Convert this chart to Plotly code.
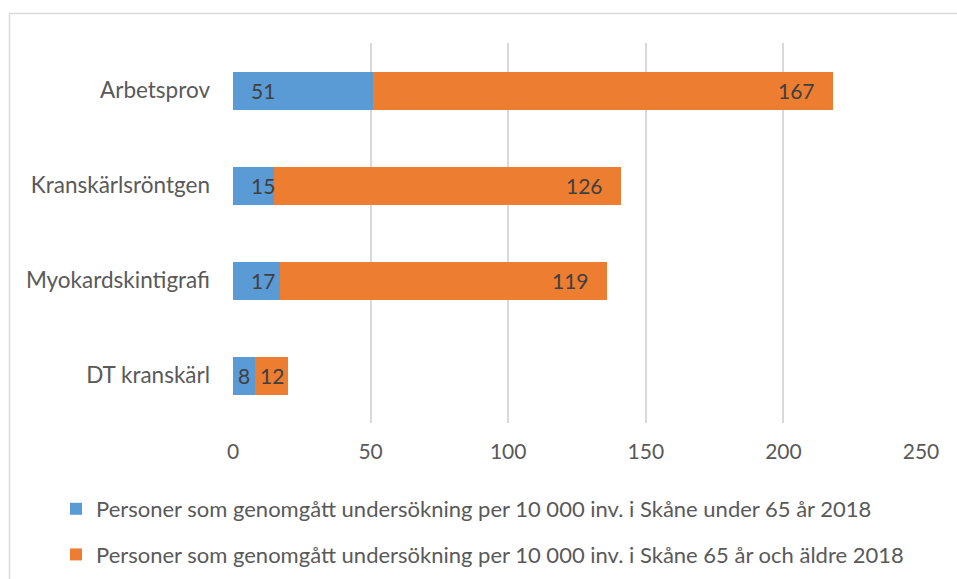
import plotly.graph_objects as go

# Examinations per 10 000 inhabitants in Skåne, 2018
categories = ["Arbetsprov", "Kranskärlsröntgen", "Myokardskintigrafi", "DT kranskärl"]
under_65 = [51, 15, 17, 8]
over_65 = [167, 126, 119, 12]
series_names = [
    "Personer som genomgått undersökning per 10 000 inv. i Skåne under 65 år 2018",
    "Personer som genomgått undersökning per 10 000 inv. i Skåne 65 år och äldre 2018",
]
x_ticks = [0, 50, 100, 150, 200, 250]

BLUE = "#5B9BD5"
ORANGE = "#ED7D31"
FONT = "Lato"
LABEL_SIZE = 21

# plot-area geometry used to place value labels like the spreadsheet does
PLOT_W = 688
PLOT_H = 380
X_MAX = 250
PX = PLOT_W / X_MAX          # pixels per unit
PAD = 16 / PX                # inset of labels, in data units
DIGIT = 11.6 / PX            # approx. width of one digit, in data units

fig = go.Figure()
fig.add_trace(go.Bar(
    y=categories, x=under_65, orientation="h", name=series_names[0],
    marker=dict(color=BLUE, line=dict(width=0)), legendgroup="a",
    hoverinfo="x+y",
))
fig.add_trace(go.Bar(
    y=categories, x=over_65, orientation="h", name=series_names[1],
    marker=dict(color=ORANGE, line=dict(width=0)), legendgroup="b",
    hoverinfo="x+y",
))

annotations = []
for cat, a, b in zip(categories, under_65, over_65):
    # blue segment: label at inside base unless the segment is too narrow
    w = len(str(a)) * DIGIT
    if a >= PAD + w:
        annotations.append(dict(x=PAD, y=cat, text=str(a), xanchor="left", showarrow=False))
    else:
        annotations.append(dict(x=a / 2, y=cat, text=str(a), xanchor="center", showarrow=False))
    # orange segment: label at inside end unless the segment is too narrow
    w = len(str(b)) * DIGIT
    if b >= PAD + w:
        annotations.append(dict(x=a + b - PAD, y=cat, text=str(b), xanchor="right", showarrow=False))
    else:
        annotations.append(dict(x=a + b / 2, y=cat, text=str(b), xanchor="center", showarrow=False))
for ann in annotations:
    ann.update(xref="x", yref="y", font=dict(family=FONT, size=LABEL_SIZE, color="#404040"))

fig.update_layout(
    width=957, height=579,
    margin=dict(l=233, r=36, t=43, b=156, autoexpand=False),
    barmode="stack", bargap=0.6,
    paper_bgcolor="white", plot_bgcolor="white",
    font=dict(family=FONT, size=LABEL_SIZE, color="#595959"),
    xaxis=dict(
        range=[0, X_MAX], tickvals=x_ticks, showgrid=True, gridcolor="#D9D9D9", gridwidth=1.5,
        zeroline=False, showline=False, ticks="", ticklabelstandoff=14, automargin=False,
        tickfont=dict(family=FONT, size=LABEL_SIZE, color="#595959"),
    ),
    yaxis=dict(
        categoryorder="array", categoryarray=categories, autorange="reversed",
        showgrid=False, zeroline=False, showline=False, ticks="", ticklabelstandoff=22,
        automargin=False,
        tickfont=dict(family=FONT, size=22.5, color="#595959"),
    ),
    legend=dict(
        x=(56 - 233) / PLOT_W, y=(423 - 488) / PLOT_H,
        xanchor="left", yanchor="top", traceorder="grouped", tracegroupgap=14,
        font=dict(family=FONT, size=22, color="#595959"), bgcolor="rgba(0,0,0,0)",
        itemwidth=30,
    ),
    annotations=annotations,
    shapes=[dict(
        type="rect", xref="paper", yref="paper",
        x0=(9.5 - 233) / PLOT_W, x1=(965 - 233) / PLOT_W,
        y0=(423 - 590) / PLOT_H, y1=(423 - 13.5) / PLOT_H,
        line=dict(color="#D9D9D9", width=1.5), fillcolor="rgba(0,0,0,0)", layer="below",
    )],
)

fig.write_html("out.html")
